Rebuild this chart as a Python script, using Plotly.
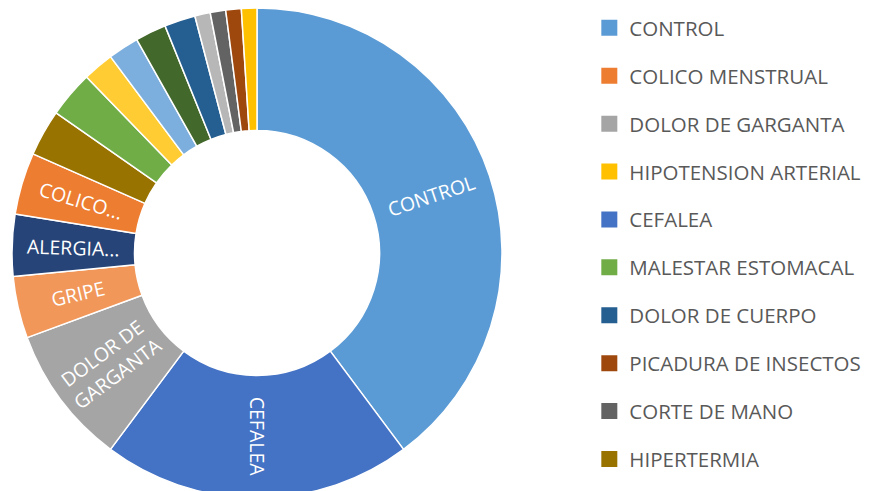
import math
import plotly.graph_objects as go

# Slices in the order they appear clockwise from 12 o'clock
slice_labels = ["CONTROL", "CEFALEA", "DOLOR DE GARGANTA", "GRIPE", "ALERGIA", "COLICO MENSTRUAL",
                "HIPERTERMIA", "MALESTAR ESTOMACAL", "CATEGORIA 16", "CATEGORIA 13", "CATEGORIA 12",
                "DOLOR DE CUERPO", "CATEGORIA 15", "CORTE DE MANO", "PICADURA DE INSECTOS",
                "HIPOTENSION ARTERIAL"]
slice_values = [39, 20, 9, 4, 4, 4, 3, 3, 2, 2, 2, 2, 1, 1, 1, 1]
slice_colors = ["#5B9BD5", "#4472C4", "#A5A5A5", "#F1975A", "#264478", "#ED7D31",
                "#997300", "#70AD47", "#FFCD33", "#7CAFDD", "#43682B",
                "#255E91", "#B7B7B7", "#636363", "#9E480E", "#FFC000"]
slice_text = ["CONTROL", "CEFALEA", "DOLOR DE<br>GARGANTA", "GRIPE", "ALERGIA...", "COLICO...",
              "", "", "", "", "", "", "", "", "", ""]

# Legend entries (as shown in the legend, top to bottom)
legend_labels = ["CONTROL", "COLICO MENSTRUAL", "DOLOR DE GARGANTA", "HIPOTENSION ARTERIAL",
                 "CEFALEA", "MALESTAR ESTOMACAL", "DOLOR DE CUERPO", "PICADURA DE INSECTOS",
                 "CORTE DE MANO", "HIPERTERMIA"]

FONT = "Open Sans"
W, H = 892, 491
MT, MB = 0, 1
PH = H - MT - MB          # plot-area height
R = PH / 2.0              # outer radius of the donut
HOLE = 0.5
CX, CY = 249, PH / 2.0    # donut centre inside the plot area (px)

color_of = dict(zip(slice_labels, slice_colors))

fig = go.Figure()
fig.add_trace(go.Pie(
    labels=slice_labels,
    values=slice_values,
    textinfo="none",
    sort=False,
    direction="clockwise",
    rotation=0,
    hole=HOLE,
    marker=dict(colors=slice_colors, line=dict(color="white", width=1.5)),
    showlegend=False,
    hoverinfo="label+value",
    domain=dict(x=[(CX - R) / W, (CX + R) / W], y=[0, 1]),
))

# Radially oriented data labels, centred in the ring of each slice
total = float(sum(slice_values))
r_mid = R * (1 + HOLE) / 2.0
cum = 0.0
annotations = []
for val, txt in zip(slice_values, slice_text):
    theta = (cum + val / 2.0) / total * 360.0
    cum += val
    if not txt:
        continue
    t = math.radians(theta)
    px = CX + r_mid * math.sin(t)
    py = CY - r_mid * math.cos(t)
    angle = theta - 90 if theta <= 180 else theta - 270
    annotations.append(dict(
        x=px / W, y=1 - py / PH, xref="paper", yref="paper",
        text=txt, showarrow=False, textangle=angle,
        xanchor="center", yanchor="middle", align="center",
        font=dict(family=FONT, size=19.5, color="white"),
    ))

for name in legend_labels:
    fig.add_trace(go.Scatter(
        x=[None], y=[None], mode="markers", name=name,
        marker=dict(symbol="square", size=16, color=color_of[name]),
        legendgroup=name, showlegend=True, hoverinfo="skip",
    ))

fig.update_layout(
    width=W, height=H,
    margin=dict(l=0, r=0, t=MT, b=MB),
    paper_bgcolor="white",
    plot_bgcolor="white",
    xaxis=dict(visible=False),
    yaxis=dict(visible=False),
    annotations=annotations,
    legend=dict(
        x=0.6517, xanchor="left", y=1.0, yanchor="top",
        font=dict(family=FONT, size=20.5, color="#595959"),
        tracegroupgap=18.25,
        bgcolor="rgba(0,0,0,0)",
    ),
)

fig.write_html("out.html")
